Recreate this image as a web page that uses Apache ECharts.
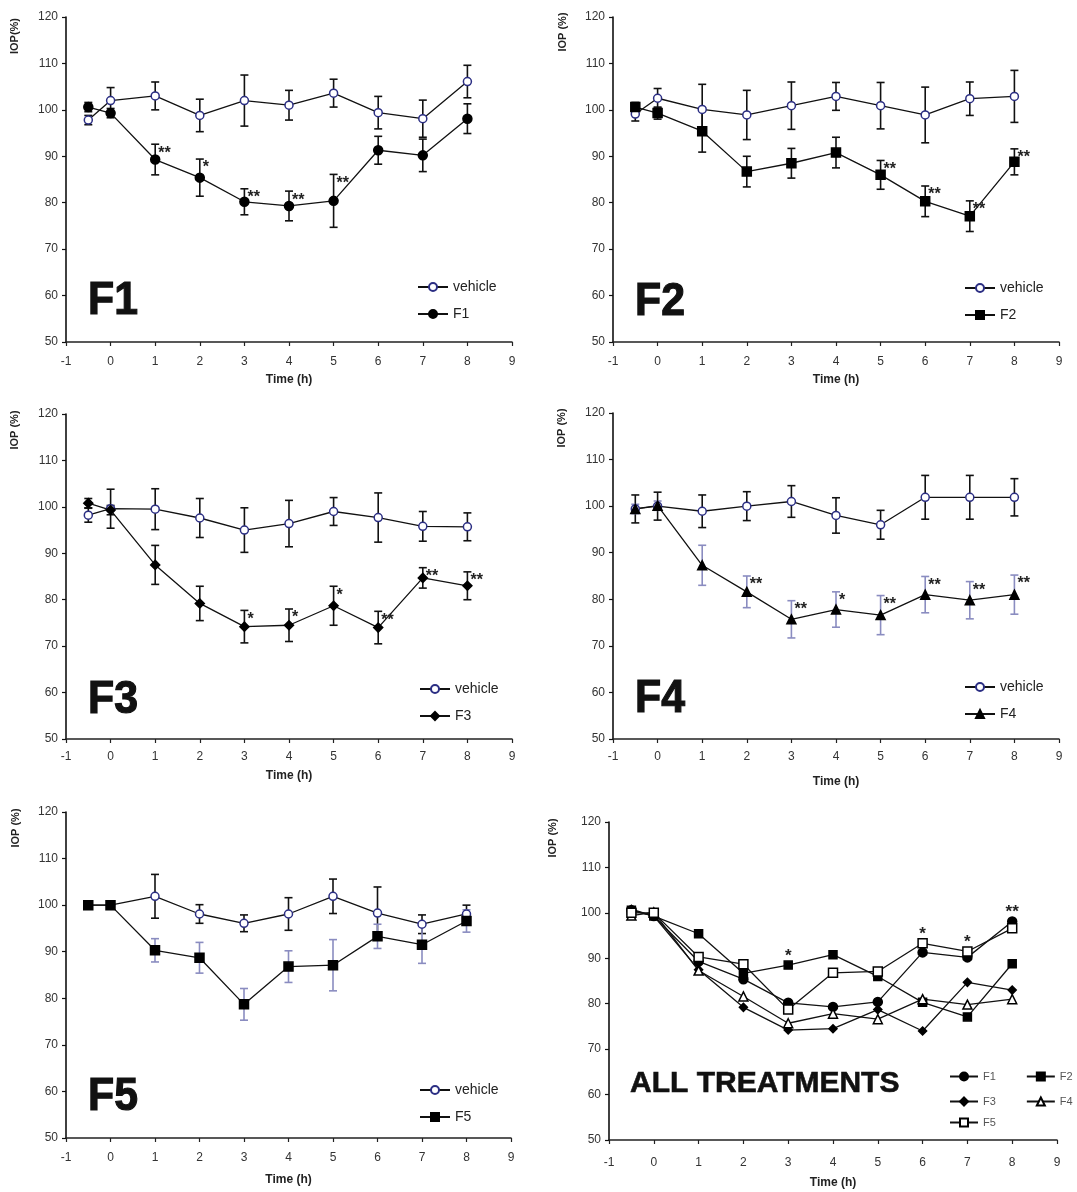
<!DOCTYPE html>
<html><head><meta charset="utf-8">
<script src="https://cdn.jsdelivr.net/npm/echarts@6/dist/echarts.min.js"></script>
<style>html,body{margin:0;padding:0;background:#fff}#c{width:1077px;height:1192px}</style>
</head><body><div id="c"></div>
<script>
// ---------- DATA ----------
const hours = [-0.5, 0, 1, 2, 3, 4, 5, 6, 7, 8];
const yMin = 50, yMax = 120, yStep = 10;
const xMin = -1, xMax = 9, xStep = 1;

const veh1    = [97.8, 102.0, 103.0, 98.8, 102.0, 101.0, 103.6, 99.4, 98.1, 106.1];
const veh1Err = [1.0, 2.8, 3.0, 3.5, 5.5, 3.2, 3.0, 3.5, 4.0, 3.5];
const f1      = [100.6, 99.3, 89.3, 85.4, 80.2, 79.3, 80.4, 91.3, 90.2, 98.1];
const f1Err   = [1.0, 1.0, 3.3, 4.0, 2.8, 3.2, 5.7, 3.0, 3.5, 3.2];
const f1Stars = ['', '', '**', '*', '**', '**', '**', '', '', ''];

const veh2    = [99.1, 102.5, 100.1, 98.9, 100.9, 102.9, 100.9, 98.9, 102.4, 102.9];
const veh2Err = [1.5, 2.1, 5.4, 5.3, 5.1, 3.0, 5.0, 6.0, 3.6, 5.6];
const f2      = [100.6, 99.3, 95.4, 86.7, 88.5, 90.8, 86.0, 80.3, 77.1, 88.8];
const f2Err   = [1.0, 1.3, 4.5, 3.3, 3.2, 3.3, 3.1, 3.3, 3.3, 2.8];
const f2Stars = ['', '', '', '', '', '', '**', '**', '**', '**'];

const veh3    = [98.2, 99.6, 99.5, 97.6, 95.0, 96.4, 99.0, 97.7, 95.8, 95.7];
const veh3Err = [1.5, 4.2, 4.4, 4.2, 4.8, 5.0, 3.0, 5.3, 3.2, 3.0];
const f3      = [100.8, 99.3, 87.5, 79.2, 74.2, 74.5, 78.7, 74.0, 84.7, 83.0];
const f3Err   = [1.0, 1.0, 4.2, 3.7, 3.5, 3.5, 4.2, 3.5, 2.2, 3.0];
const f3Stars = ['', '', '', '', '*', '*', '*', '**', '**', '**'];

const veh4    = [99.4, 100.0, 98.9, 100.0, 101.0, 98.0, 96.0, 101.9, 101.9, 101.9];
const veh4Err = [3.0, 3.0, 3.5, 3.1, 3.4, 3.8, 3.1, 4.7, 4.7, 4.0];
const f4      = [99.4, 100.1, 87.3, 81.6, 75.7, 77.8, 76.6, 81.0, 79.8, 81.0];
const f4Err   = [1.0, 1.0, 4.3, 3.4, 4.0, 3.8, 4.2, 3.9, 4.0, 4.2];
const f4Stars = ['', '', '', '**', '**', '*', '**', '**', '**', '**'];

const veh5    = [100.0, 100.0, 101.9, 98.1, 96.1, 98.1, 101.9, 98.3, 95.9, 98.1];
const veh5Err = [0.5, 0.5, 4.7, 2.0, 1.8, 3.5, 3.7, 5.6, 2.0, 1.9];
const f5      = [100.0, 100.0, 90.3, 88.7, 78.7, 86.8, 87.1, 93.3, 91.5, 96.6];
const f5Err   = [0.5, 0.5, 2.5, 3.3, 3.4, 3.4, 5.5, 2.6, 4.0, 2.4];
const f5Stars = ['', '', '', '', '', '', '', '', '', ''];

// significance marks of the ALL panel, aligned to hours
const allStarsByHour = ['', '', '', '', '*', '', '', '*', '*', '**'];

const panelNames = ['F1', 'F2', 'F3', 'F4', 'F5', 'ALL TREATMENTS'];
const yAxisTitles = ['IOP(%)', 'IOP (%)', 'IOP (%)', 'IOP (%)', 'IOP (%)', 'IOP (%)'];
const xAxisTitle = 'Time (h)';

// ---------- LAYOUT / STYLE ----------
const FONT = 'Liberation Sans, Arial, Helvetica, sans-serif';
const grids = [
  {left: 66,  top: 17,  width: 446, height: 325, nameGap: 32, lblMargin: 14},
  {left: 613, top: 17,  width: 446, height: 325, nameGap: 32, lblMargin: 14},
  {left: 66,  top: 414, width: 446, height: 325, nameGap: 31, lblMargin: 12},
  {left: 613, top: 413, width: 446, height: 326, nameGap: 37, lblMargin: 12},
  {left: 66,  top: 812, width: 445, height: 326, nameGap: 36, lblMargin: 14},
  {left: 609, top: 822, width: 448, height: 318, nameGap: 37, lblMargin: 17}
];
const NAVY = '#2b2e83';
const LAV = '#8a8cc0';

const xAxes = grids.map((g, i) => ({
  type: 'value', gridIndex: i, min: xMin, max: xMax, interval: xStep,
  name: xAxisTitle, nameLocation: 'middle', nameGap: g.nameGap,
  nameTextStyle: {fontFamily: FONT, fontWeight: 'bold', fontSize: 12, color: '#222'},
  axisLine: {onZero: false, lineStyle: {color: '#222', width: 1.5}},
  axisTick: {show: true, length: 4, lineStyle: {color: '#222', width: 1.2}},
  axisLabel: {fontFamily: FONT, fontSize: 12, color: '#333', margin: g.lblMargin},
  splitLine: {show: false}
}));
const yAxes = grids.map((g, i) => ({
  type: 'value', gridIndex: i, min: yMin, max: yMax, interval: yStep,
  axisLine: {show: true, onZero: false, lineStyle: {color: '#111', width: 1.6}},
  axisTick: {show: true, length: 4, lineStyle: {color: '#111', width: 1.2}},
  axisLabel: {fontFamily: FONT, fontSize: 12, color: '#333', margin: 8},
  splitLine: {show: false}
}));

function lineSeries(name, gi, vals, sym, size, fill, border) {
  return {
    type: 'line', name: name, xAxisIndex: gi, yAxisIndex: gi,
    data: hours.map((h, i) => [h, vals[i]]),
    symbol: sym, symbolSize: size, showSymbol: true, showAllSymbol: true,
    lineStyle: {color: '#111', width: 1.3},
    itemStyle: {color: fill, borderColor: border, borderWidth: 1.5, opacity: 1},
    emphasis: {disabled: true}, animation: false, z: 4
  };
}
function errSeries(gi, vals, errs, color) {
  return {
    type: 'custom', xAxisIndex: gi, yAxisIndex: gi, silent: true, animation: false, z: 2,
    data: hours.map((h, i) => [h, vals[i] - errs[i], vals[i] + errs[i]]),
    encode: {x: 0, y: [1, 2]},
    renderItem: function (params, api) {
      const x = api.value(0);
      const lo = api.coord([x, api.value(1)]);
      const hi = api.coord([x, api.value(2)]);
      const st = {stroke: color, lineWidth: 1.6};
      return {type: 'group', children: [
        {type: 'line', shape: {x1: lo[0], y1: lo[1], x2: hi[0], y2: hi[1]}, style: st},
        {type: 'line', shape: {x1: hi[0] - 4, y1: hi[1], x2: hi[0] + 4, y2: hi[1]}, style: st},
        {type: 'line', shape: {x1: lo[0] - 4, y1: lo[1], x2: lo[0] + 4, y2: lo[1]}, style: st}
      ]};
    }
  };
}
function starSeries(gi, vals, errs, stars) {
  const pts = [], txt = [];
  hours.forEach((h, i) => { if (stars[i]) { pts.push([h, vals[i] + errs[i]]); txt.push(stars[i]); } });
  return {
    type: 'custom', xAxisIndex: gi, yAxisIndex: gi, silent: true, animation: false, z: 5,
    data: pts, encode: {x: 0, y: 1},
    renderItem: function (params, api) {
      const p = api.coord([api.value(0), api.value(1)]);
      return {type: 'text', x: p[0] + 3, y: p[1] + 9,
        style: {text: txt[params.dataIndex], font: 'bold 16px ' + FONT, fill: '#222',
                textAlign: 'left', textVerticalAlign: 'middle'}};
    }
  };
}
function allStarSeries(gi, lists, stars) {
  const pts = [], txt = [];
  hours.forEach((h, i) => {
    if (stars[i]) { pts.push([h, Math.max.apply(null, lists.map(l => l[i]))]); txt.push(stars[i]); }
  });
  return {
    type: 'custom', xAxisIndex: gi, yAxisIndex: gi, silent: true, animation: false, z: 5,
    data: pts, encode: {x: 0, y: 1},
    renderItem: function (params, api) {
      const p = api.coord([api.value(0), api.value(1)]);
      return {type: 'text', x: p[0], y: p[1] - 9,
        style: {text: txt[params.dataIndex], font: 'bold 17px ' + FONT, fill: '#222',
                textAlign: 'center', textVerticalAlign: 'middle'}};
    }
  };
}

const series = [];
const panels = [
  {veh: veh1, vehErr: veh1Err, tr: f1, trErr: f1Err, stars: f1Stars, name: 'F1', sym: 'circle', size: 9, errCol: '#111'},
  {veh: veh2, vehErr: veh2Err, tr: f2, trErr: f2Err, stars: f2Stars, name: 'F2', sym: 'rect', size: 9, errCol: '#111'},
  {veh: veh3, vehErr: veh3Err, tr: f3, trErr: f3Err, stars: f3Stars, name: 'F3', sym: 'diamond', size: 9, errCol: '#111'},
  {veh: veh4, vehErr: veh4Err, tr: f4, trErr: f4Err, stars: f4Stars, name: 'F4', sym: 'triangle', size: 9, errCol: LAV},
  {veh: veh5, vehErr: veh5Err, tr: f5, trErr: f5Err, stars: f5Stars, name: 'F5', sym: 'rect', size: 9, errCol: LAV}
];
panels.forEach((p, gi) => {
  series.push(errSeries(gi, p.veh, p.vehErr, '#111'));
  series.push(errSeries(gi, p.tr, p.trErr, p.errCol));
  series.push(lineSeries('vehicle', gi, p.veh, 'circle', 8, '#fff', NAVY));
  series.push(lineSeries(p.name, gi, p.tr, p.sym, p.size, '#000', '#000'));
  series.push(starSeries(gi, p.tr, p.trErr, p.stars));
});
// ALL TREATMENTS panel
series.push(lineSeries('F1 ', 5, f1, 'circle', 9, '#000', '#000'));
series.push(lineSeries('F2 ', 5, f2, 'rect', 8, '#000', '#000'));
series.push(lineSeries('F3 ', 5, f3, 'diamond', 8, '#000', '#000'));
series.push(lineSeries('F4 ', 5, f4, 'triangle', 9, '#fff', '#000'));
series.push(lineSeries('F5 ', 5, f5, 'rect', 9, '#fff', '#000'));
series.push(allStarSeries(5, [f1, f2, f3, f4, f5], allStarsByHour));

const legTxt = {fontFamily: FONT, fontSize: 14, color: '#222'};
const legBase = {orient: 'vertical', itemWidth: 30, itemHeight: 10, itemGap: 13, selectedMode: false, textStyle: legTxt, padding: 0};
const allLegBase = {orient: 'horizontal', itemWidth: 28, itemHeight: 10, itemGap: 30, selectedMode: false, padding: 0,
  textStyle: {fontFamily: FONT, fontSize: 11, color: '#555'}, formatter: n => n.trim()};
const legends = [
  Object.assign({data: ['vehicle', 'F1'], left: 417, top: 280}, legBase),
  Object.assign({data: ['vehicle', 'F2'], left: 964, top: 281}, legBase),
  Object.assign({data: ['vehicle', 'F3'], left: 419, top: 682}, legBase),
  Object.assign({data: ['vehicle', 'F4'], left: 964, top: 680}, legBase),
  Object.assign({data: ['vehicle', 'F5'], left: 419, top: 1083}, legBase),
  Object.assign({data: ['F1 ', 'F2 '], left: 949, top: 1071}, allLegBase),
  Object.assign({data: ['F3 ', 'F4 '], left: 949, top: 1096}, allLegBase),
  Object.assign({data: ['F5 '], left: 949, top: 1117}, allLegBase)
];

const bigLabelPos = [[88, 301], [635, 302], [88, 700], [635, 699], [88, 1097]];
const graphics = [];
bigLabelPos.forEach((p, i) => {
  graphics.push({type: 'text', x: p[0], y: p[1], scaleX: 0.93,
    style: {text: panelNames[i], font: 'bold 46px ' + FONT, fill: '#111', stroke: '#111', lineWidth: 1.2,
            textAlign: 'left', textVerticalAlign: 'middle'}});
});
graphics.push({type: 'text', x: 630, y: 1084,
  style: {text: panelNames[5], font: 'bold 30px ' + FONT, fill: '#111', stroke: '#111', lineWidth: 0.6,
          textAlign: 'left', textVerticalAlign: 'middle'}});
const yTitlePos = [[15, 36], [563, 32], [15, 430], [562, 428], [16, 828], [553, 838]];
yTitlePos.forEach((p, i) => {
  graphics.push({type: 'text', x: p[0], y: p[1], rotation: Math.PI / 2,
    style: {text: yAxisTitles[i], font: 'bold 11px ' + FONT, fill: '#222', textAlign: 'center', textVerticalAlign: 'middle'}});
});

const chart = echarts.init(document.getElementById('c'), null, {renderer: 'canvas'});
chart.setOption({
  animation: false,
  backgroundColor: '#fff',
  grid: grids.map(g => ({left: g.left, top: g.top, width: g.width, height: g.height, containLabel: false})),
  xAxis: xAxes,
  yAxis: yAxes,
  legend: legends,
  series: series,
  graphic: graphics
});
</script>
</body></html>
